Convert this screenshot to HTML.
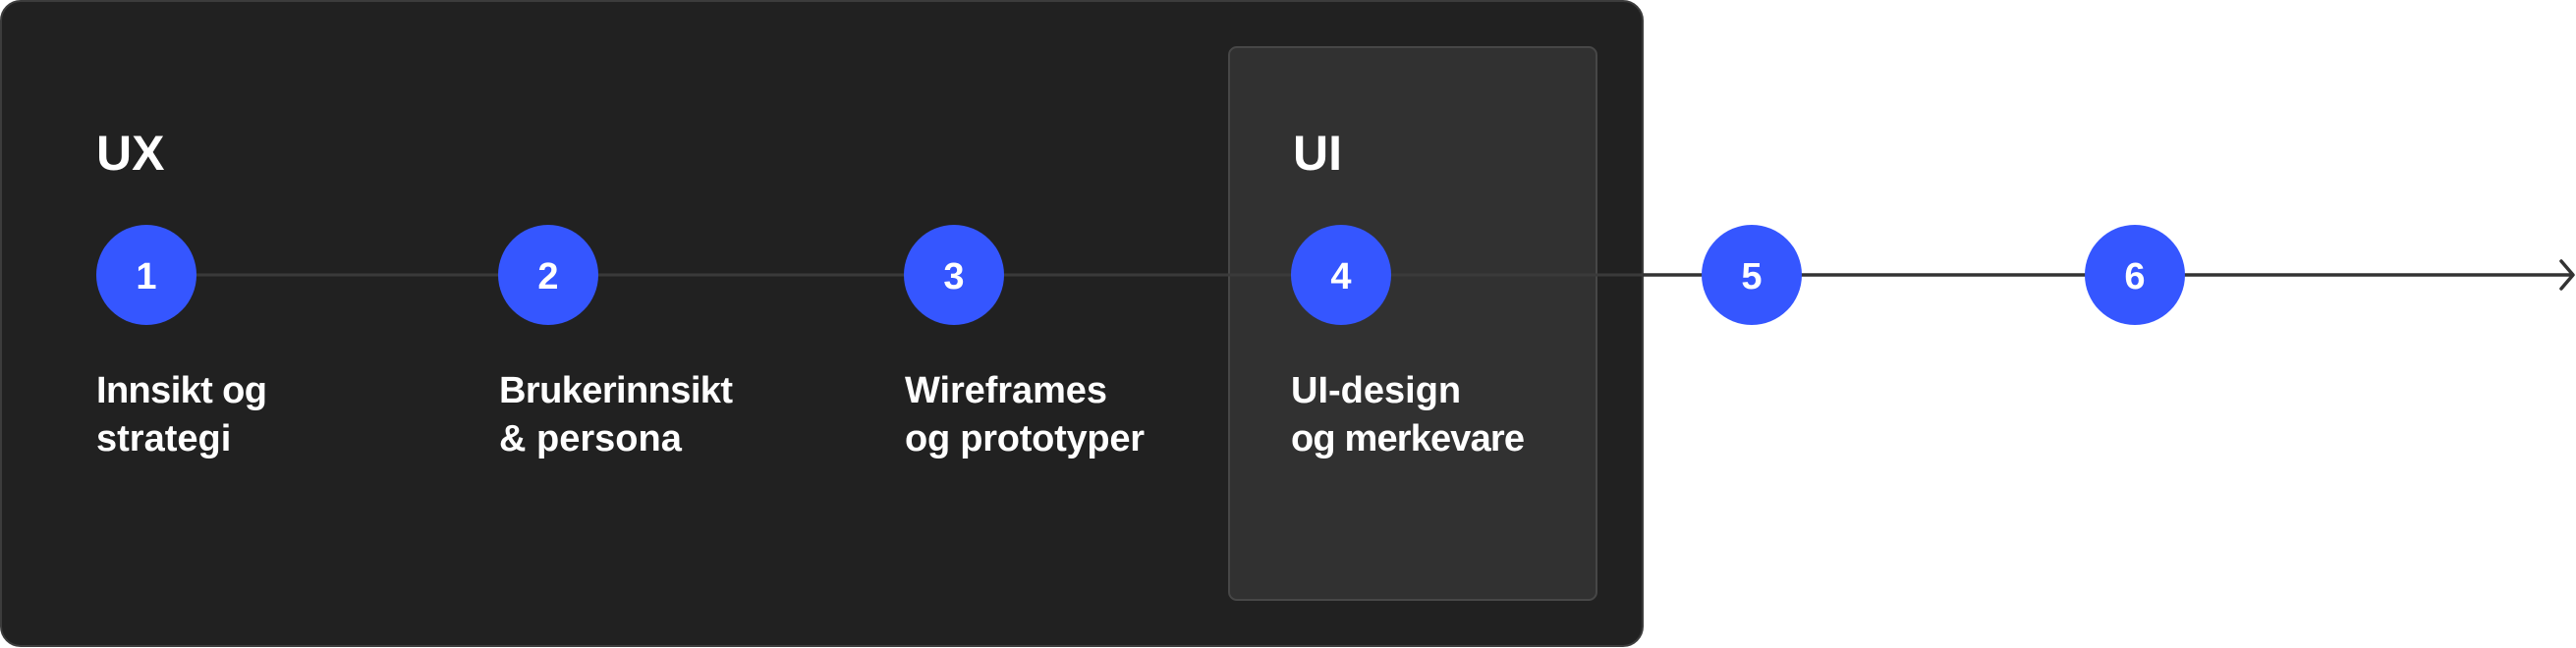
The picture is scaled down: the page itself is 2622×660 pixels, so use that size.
<!DOCTYPE html>
<html><head><meta charset="utf-8"><style>
html,body{margin:0;padding:0;background:#fff;width:2622px;height:660px;overflow:hidden}
svg{display:block}
text{font-family:"Liberation Sans",sans-serif;fill:#fff}
.t{font-size:38px;font-weight:bold}
.n{font-size:38px;font-weight:bold;text-anchor:middle}
</style></head><body>
<svg width="2622" height="660" viewBox="0 0 2622 660">
<rect x="1" y="1" width="1671" height="657" rx="20" fill="#212121" stroke="#3c3c3c" stroke-width="2"/>
<rect x="1251" y="48" width="374" height="563" rx="8" fill="#313131" stroke="#474747" stroke-width="2"/>
<line x1="149" y1="280" x2="1672" y2="280" stroke="#3a3a3a" stroke-width="3"/>
<line x1="1672" y1="280" x2="2618" y2="280" stroke="#333" stroke-width="3.5"/>
<polyline points="2607,266 2619,280 2607,294" fill="none" stroke="#333" stroke-width="3.5" stroke-linecap="round" stroke-linejoin="round"/>
<text x="98" y="173" style="font-size:50px;font-weight:bold">UX</text>
<text x="1316" y="173" style="font-size:50px;font-weight:bold">UI</text>
<circle cx="149" cy="280" r="51" fill="#3556ff"/>
<circle cx="558" cy="280" r="51" fill="#3556ff"/>
<circle cx="971" cy="280" r="51" fill="#3556ff"/>
<circle cx="1365" cy="280" r="51" fill="#3556ff"/>
<circle cx="1783" cy="280" r="51" fill="#3556ff"/>
<circle cx="2173" cy="280" r="51" fill="#3556ff"/>
<text class="n" x="149" y="294">1</text>
<text class="n" x="558" y="294">2</text>
<text class="n" x="971" y="294">3</text>
<text class="n" x="1365" y="294">4</text>
<text class="n" x="1783" y="294">5</text>
<text class="n" x="2173" y="294">6</text>
<text class="t" x="98" y="410" textLength="174">Innsikt og</text>
<text class="t" x="98" y="459">strategi</text>
<text class="t" x="508" y="410" textLength="238">Brukerinnsikt</text>
<text class="t" x="508" y="459">&amp; persona</text>
<text class="t" x="921" y="410" textLength="206">Wireframes</text>
<text class="t" x="921" y="459" textLength="244">og prototyper</text>
<text class="t" x="1314" y="410">UI-design</text>
<text class="t" x="1314" y="459" textLength="238">og merkevare</text>
</svg>
</body></html>
